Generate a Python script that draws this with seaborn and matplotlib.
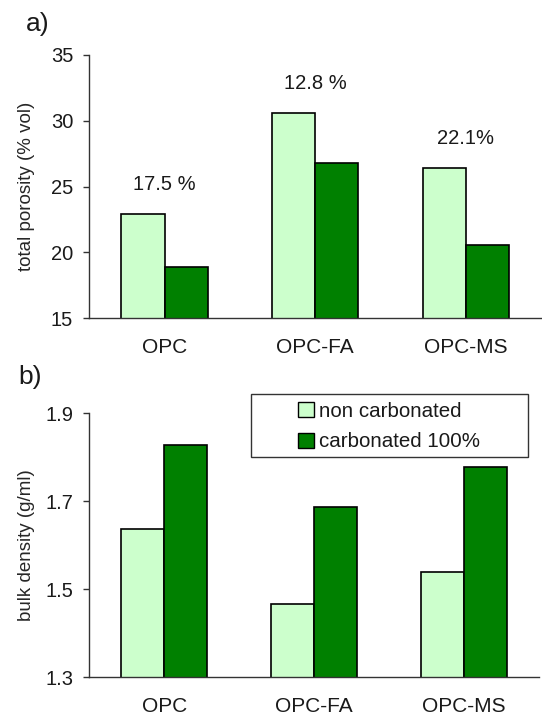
import matplotlib
matplotlib.use("Agg")
import matplotlib.pyplot as plt
from matplotlib.patches import Rectangle
import seaborn as sns
import pandas as pd

# Mortar types and carbonation states
mixes = ["OPC", "OPC-FA", "OPC-MS"]
states = ["non carbonated", "carbonated 100%"]

# Total porosity (% vol)
porosity_non = [22.9, 30.6, 26.4]
porosity_carb = [18.9, 26.8, 20.6]
porosity_drop = ["17.5 %", "12.8 %", "22.1%"]

# Bulk density (g/ml)
density_non = [1.636, 1.466, 1.539]
density_carb = [1.828, 1.688, 1.779]

palette = {"non carbonated": "#ccffcc", "carbonated 100%": "#008000"}


def long_table(non, carb):
    return pd.DataFrame({
        "mix": mixes * 2,
        "state": [states[0]] * 3 + [states[1]] * 3,
        "value": list(non) + list(carb),
    })


sns.set_style("white")
plt.rcParams["font.family"] = ["Liberation Sans", "DejaVu Sans"]
plt.rcParams["text.color"] = "#1a1a1a"
plt.rcParams["xtick.color"] = "#1a1a1a"
plt.rcParams["ytick.color"] = "#1a1a1a"

fig = plt.figure(figsize=(5.42, 7.18), dpi=100)
ax1 = fig.add_axes([0.1646, 0.5567, 0.8336, 0.3667])
ax2 = fig.add_axes([0.1646, 0.0567, 0.8300, 0.3677])


def style_axes(ax, ylim, yticks, fmt, ylabel):
    ax.set_xlim(-0.5, 2.5)
    ax.set_ylim(*ylim)
    ax.set_yticks(yticks)
    ax.set_yticklabels([fmt.format(t) for t in yticks], fontsize=14.5)
    ax.set_xticks([0, 1, 2])
    ax.set_xticklabels(mixes, fontsize=15)
    ax.set_xticks([-0.5, 0.5, 1.5, 2.5], minor=True)
    ax.tick_params(axis="x", which="major", length=0, pad=14)
    ax.tick_params(axis="x", which="minor", length=4.5, width=1, color="#333333", direction="out")
    ax.tick_params(axis="y", length=4.5, width=1, color="#333333", direction="out", pad=7, left=True)
    for side in ["top", "right"]:
        ax.spines[side].set_visible(False)
    for side in ["left", "bottom"]:
        ax.spines[side].set_color("#333333")
        ax.spines[side].set_linewidth(1.0)
    ax.set_xlabel("")
    ax.set_ylabel(ylabel, fontsize=13.5)
    ax.yaxis.set_label_coords(-0.12, 0.5)


# a) total porosity
sns.barplot(data=long_table(porosity_non, porosity_carb), x="mix", y="value",
            hue="state", hue_order=states, palette=palette, width=0.572, gap=0,
            edgecolor="black", linewidth=1.2, saturation=1, legend=False, ax=ax1)
style_axes(ax1, (15, 35), [15, 20, 25, 30, 35], "{:.0f}", "total porosity (% vol)")
for i, txt in enumerate(porosity_drop):
    top = max(porosity_non[i], porosity_carb[i])
    ax1.annotate(txt, (i, top), xytext=(0, 21.5), textcoords="offset points",
                 ha="center", va="center", fontsize=14.5)

# b) bulk density
sns.barplot(data=long_table(density_non, density_carb), x="mix", y="value",
            hue="state", hue_order=states, palette=palette, width=0.572, gap=0,
            edgecolor="black", linewidth=1.2, saturation=1, ax=ax2)
style_axes(ax2, (1.3, 1.9), [1.3, 1.5, 1.7, 1.9], "{:.1f}", "bulk density (g/ml)")

handles, labels = ax2.get_legend_handles_labels()
leg = ax2.legend(handles, labels, loc="center", bbox_to_anchor=(0.667, 0.949),
                 frameon=False, fontsize=14.8,
                 handlelength=0.75, handleheight=0.75, handletextpad=0.25,
                 labelspacing=0.55, borderaxespad=0)
for h in leg.legend_handles:
    h.set_edgecolor("black")
    h.set_linewidth(1.0)
ax2.add_patch(Rectangle((0.359, 0.833), 0.617, 0.239, transform=ax2.transAxes,
                        fill=False, edgecolor="#333333", linewidth=1.0, clip_on=False))

fig.text(0.048, 0.967, "a)", fontsize=19, va="center", ha="left")
fig.text(0.034, 0.475, "b)", fontsize=19, va="center", ha="left")

fig.savefig("out.png", dpi=100)
